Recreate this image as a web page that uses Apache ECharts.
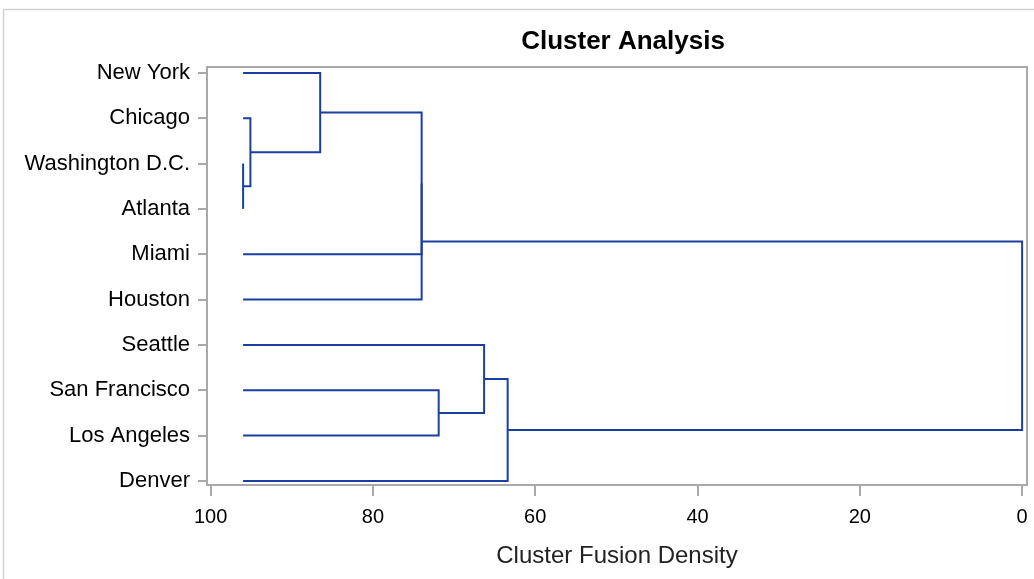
<!DOCTYPE html>
<html>
<head>
<meta charset="utf-8">
<script src="https://cdn.jsdelivr.net/npm/echarts@6/dist/echarts.min.js"></script>
<style>html,body{margin:0;padding:0;background:#fff}#c{width:1034px;height:579px}</style>
</head>
<body>
<div id="c"></div>
<script>
// Leaves, top to bottom
const cities = ['New York', 'Chicago', 'Washington D.C.', 'Atlanta', 'Miami', 'Houston', 'Seattle', 'San Francisco', 'Los Angeles', 'Denver'];
// Height at which leaves start
const leafHeight = 96.0;
// Merge steps: children are leaf indices (0..9) or cluster ids ('C1'...), merge height
const mergeLeft   = [2,    1,    0,    'C3', 'C4', 7,    6,    'C7', 'C5'];
const mergeRight  = [3,    'C1', 'C2', 4,    5,    8,    'C6', 9,    'C8'];
const mergeHeight = [96.0, 95.1, 86.5, 74.0, 74.0, 71.9, 66.3, 63.4, 0.0];
const xTicks = [0, 20, 40, 60, 80, 100];

const n = cities.length;
const leafY = i => n - 1 - i; // top leaf gets the largest y value
const nodes = {};
function nodeOf(c) {
  if (typeof c === 'number') return { x: leafHeight, y: leafY(c) };
  return nodes[c];
}
const segs = [];
mergeHeight.forEach((h, k) => {
  const a = nodeOf(mergeLeft[k]);
  const b = nodeOf(mergeRight[k]);
  segs.push({ coords: [[a.x, a.y], [h, a.y], [h, b.y], [b.x, b.y]] });
  nodes['C' + (k + 1)] = { x: h, y: (a.y + b.y) / 2 };
});

const FONT = '"Liberation Sans", Arial, sans-serif';
const axisGray = '#a9a9a9';
const yTicks = cities.map((c, i) => leafY(i));
const chart = echarts.init(document.getElementById('c'), null, { renderer: 'canvas' });
chart.setOption({
  animation: false,
  backgroundColor: '#fff',
  title: {
    text: 'Cluster Analysis',
    left: 618, top: 24, textAlign: 'center',
    textStyle: { fontFamily: FONT, fontSize: 26, fontWeight: 'bold', color: '#000' }
  },
  graphic: [{
    type: 'rect', shape: { x: 3.5, y: 9.5, width: 1100, height: 700 },
    style: { fill: null, stroke: '#d3d3d3', lineWidth: 1.5 }, silent: true, z: -1
  }],
  grid: {
    left: 207, right: 7, top: 67, bottom: 94,
    show: true, borderColor: axisGray, borderWidth: 2, backgroundColor: 'transparent'
  },
  xAxis: {
    type: 'value', inverse: true, min: -0.6, max: 100.45,
    name: 'Cluster Fusion Density', nameLocation: 'middle', nameGap: 59,
    nameTextStyle: { fontFamily: FONT, fontSize: 24, color: '#222' },
    axisLine: { show: false, onZero: false },
    axisTick: { show: true, inside: false, customValues: xTicks, length: 11, lineStyle: { color: axisGray, width: 2 } },
    axisLabel: { customValues: xTicks, fontFamily: FONT, fontSize: 20, color: '#000', margin: 22 },
    splitLine: { show: false }
  },
  yAxis: {
    type: 'value', min: -0.09, max: 9.13,
    axisLine: { show: false, onZero: false },
    axisTick: { show: true, inside: false, customValues: yTicks, length: 9, lineStyle: { color: axisGray, width: 2 } },
    axisLabel: {
      customValues: yTicks,
      formatter: v => cities[n - 1 - Math.round(v)],
      fontFamily: FONT, fontSize: 22, color: '#000', margin: 17
    },
    splitLine: { show: false }
  },
  series: [{
    type: 'lines',
    coordinateSystem: 'cartesian2d',
    polyline: true,
    silent: true,
    lineStyle: { color: '#1a3f9e', width: 2, opacity: 1 },
    data: segs
  }]
});
</script>
</body>
</html>
